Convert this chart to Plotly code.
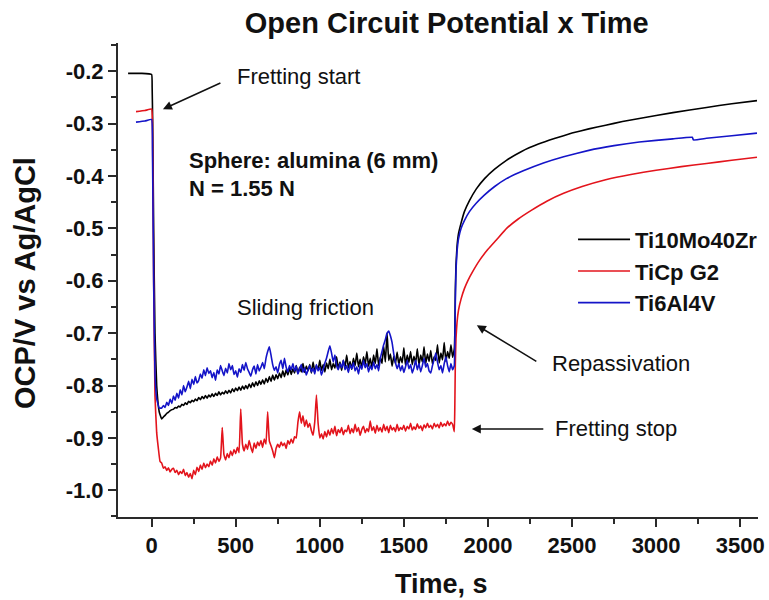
import plotly.graph_objects as go

# ---------------- data ----------------
SERIES_NAMES = ["Ti10Mo40Zr", "TiCp G2", "Ti6Al4V"]
SERIES_COLORS = ["#000000", "#e3141c", "#1414c8"]

# Before fretting (open circuit, stable) and the initial drop
BLACK_PRE_T = [-140, -60, 0, 3, 6, 12, 20, 30, 45]
BLACK_PRE_V = [-0.204, -0.204, -0.206, -0.23, -0.29, -0.50, -0.70, -0.80, -0.85]
RED_PRE_T = [-93, -40, 0, 5, 12, 20, 30, 40, 50]
RED_PRE_V = [-0.277, -0.275, -0.272, -0.30, -0.60, -0.82, -0.89, -0.92, -0.945]
BLUE_PRE_T = [-93, -40, 0, 5, 12, 20, 30, 45]
BLUE_PRE_V = [-0.297, -0.295, -0.292, -0.35, -0.60, -0.78, -0.825, -0.843]

# Sliding (fretting) period sampling times, s (every 10 s from 60 to 1800)
T_SLIDE = [
    60, 70, 80, 90, 100, 110, 120, 130, 140, 150,
    160, 170, 180, 190, 200, 210, 220, 230, 240, 250,
    260, 270, 280, 290, 300, 310, 320, 330, 340, 350,
    360, 370, 380, 390, 400, 410, 420, 430, 440, 450,
    460, 470, 480, 490, 500, 510, 520, 530, 540, 550,
    560, 570, 580, 590, 600, 610, 620, 630, 640, 650,
    660, 670, 680, 690, 700, 710, 720, 730, 740, 750,
    760, 770, 780, 790, 800, 810, 820, 830, 840, 850,
    860, 870, 880, 890, 900, 910, 920, 930, 940, 950,
    960, 970, 980, 990, 1000, 1010, 1020, 1030, 1040, 1050,
    1060, 1070, 1080, 1090, 1100, 1110, 1120, 1130, 1140, 1150,
    1160, 1170, 1180, 1190, 1200, 1210, 1220, 1230, 1240, 1250,
    1260, 1270, 1280, 1290, 1300, 1310, 1320, 1330, 1340, 1350,
    1360, 1370, 1380, 1390, 1400, 1410, 1420, 1430, 1440, 1450,
    1460, 1470, 1480, 1490, 1500, 1510, 1520, 1530, 1540, 1550,
    1560, 1570, 1580, 1590, 1600, 1610, 1620, 1630, 1640, 1650,
    1660, 1670, 1680, 1690, 1700, 1710, 1720, 1730, 1740, 1750,
    1760, 1770, 1780, 1790, 1800]

BLACK_SLIDE = [
    -0.864, -0.860, -0.857, -0.853, -0.851, -0.848, -0.846, -0.845, -0.842, -0.843,
    -0.839, -0.841, -0.836, -0.838, -0.833, -0.836, -0.830, -0.833, -0.828, -0.831,
    -0.826, -0.829, -0.823, -0.827, -0.821, -0.825, -0.819, -0.824, -0.818, -0.822,
    -0.816, -0.821, -0.815, -0.819, -0.812, -0.818, -0.813, -0.816, -0.810, -0.815,
    -0.809, -0.814, -0.806, -0.812, -0.805, -0.810, -0.803, -0.809, -0.801, -0.807,
    -0.800, -0.806, -0.797, -0.804, -0.795, -0.802, -0.793, -0.800, -0.791, -0.798,
    -0.789, -0.797, -0.786, -0.794, -0.783, -0.792, -0.780, -0.790, -0.779, -0.787,
    -0.776, -0.785, -0.772, -0.783, -0.770, -0.780, -0.766, -0.779, -0.768, -0.776,
    -0.762, -0.777, -0.765, -0.774, -0.758, -0.775, -0.763, -0.772, -0.760, -0.776,
    -0.755, -0.773, -0.762, -0.770, -0.752, -0.771, -0.760, -0.774, -0.757, -0.768,
    -0.750, -0.770, -0.758, -0.767, -0.745, -0.768, -0.755, -0.771, -0.752, -0.765,
    -0.742, -0.766, -0.754, -0.769, -0.748, -0.762, -0.738, -0.764, -0.750, -0.766,
    -0.745, -0.760, -0.735, -0.763, -0.748, -0.766, -0.742, -0.758, -0.730, -0.762,
    -0.746, -0.758, -0.725, -0.755, -0.700, -0.752, -0.740, -0.763, -0.744, -0.758,
    -0.736, -0.760, -0.745, -0.757, -0.728, -0.762, -0.742, -0.756, -0.735, -0.760,
    -0.744, -0.757, -0.730, -0.761, -0.742, -0.755, -0.726, -0.758, -0.740, -0.754,
    -0.733, -0.759, -0.745, -0.752, -0.722, -0.757, -0.738, -0.751, -0.718, -0.754,
    -0.735, -0.748, -0.722, -0.746, -0.730]

RED_SLIDE = [
    -0.948, -0.958, -0.955, -0.962, -0.957, -0.965, -0.960, -0.958, -0.966, -0.962,
    -0.970, -0.964, -0.968, -0.960, -0.972, -0.966, -0.975, -0.968, -0.978, -0.962,
    -0.970, -0.956, -0.964, -0.952, -0.960, -0.948, -0.957, -0.950, -0.955, -0.944,
    -0.952, -0.940, -0.948, -0.936, -0.945, -0.938, -0.880, -0.932, -0.942, -0.930,
    -0.938, -0.925, -0.934, -0.922, -0.930, -0.918, -0.928, -0.845, -0.912, -0.925,
    -0.912, -0.922, -0.905, -0.918, -0.928, -0.910, -0.920, -0.908, -0.915, -0.905,
    -0.918, -0.902, -0.912, -0.850, -0.906, -0.915, -0.925, -0.938, -0.920, -0.912,
    -0.918, -0.908, -0.915, -0.910, -0.920, -0.905, -0.912, -0.902, -0.910, -0.898,
    -0.900, -0.870, -0.850, -0.872, -0.858, -0.878, -0.866, -0.880, -0.872, -0.886,
    -0.895, -0.870, -0.818, -0.872, -0.900, -0.892, -0.902, -0.888, -0.898, -0.885,
    -0.895, -0.882, -0.892, -0.878, -0.896, -0.884, -0.890, -0.880, -0.894, -0.885,
    -0.888, -0.876, -0.892, -0.882, -0.890, -0.874, -0.888, -0.880, -0.895, -0.884,
    -0.878, -0.890, -0.882, -0.888, -0.868, -0.886, -0.879, -0.891, -0.876, -0.887,
    -0.880, -0.889, -0.874, -0.886, -0.878, -0.890, -0.876, -0.885, -0.880, -0.888,
    -0.874, -0.886, -0.880, -0.884, -0.876, -0.887, -0.878, -0.883, -0.872, -0.885,
    -0.879, -0.884, -0.873, -0.882, -0.877, -0.886, -0.875, -0.881, -0.872, -0.880,
    -0.876, -0.883, -0.872, -0.879, -0.874, -0.881, -0.870, -0.878, -0.873, -0.877,
    -0.868, -0.876, -0.870, -0.874, -0.888]

BLUE_SLIDE = [
    -0.843, -0.838, -0.842, -0.832, -0.838, -0.826, -0.834, -0.820, -0.828, -0.815,
    -0.824, -0.808, -0.818, -0.800, -0.812, -0.803, -0.792, -0.806, -0.788, -0.798,
    -0.783, -0.795, -0.790, -0.778, -0.786, -0.770, -0.781, -0.766, -0.777, -0.772,
    -0.785, -0.775, -0.790, -0.770, -0.778, -0.762, -0.772, -0.781, -0.767, -0.776,
    -0.758, -0.770, -0.762, -0.779, -0.772, -0.784, -0.768, -0.775, -0.760, -0.771,
    -0.756, -0.768, -0.775, -0.782, -0.770, -0.763, -0.778, -0.760, -0.772, -0.765,
    -0.756, -0.768, -0.748, -0.735, -0.726, -0.742, -0.760, -0.771, -0.764, -0.776,
    -0.760, -0.752, -0.768, -0.748, -0.765, -0.774, -0.762, -0.770, -0.758, -0.772,
    -0.763, -0.778, -0.768, -0.760, -0.775, -0.766, -0.780, -0.770, -0.762, -0.774,
    -0.767, -0.778, -0.760, -0.772, -0.765, -0.780, -0.770, -0.757, -0.748, -0.735,
    -0.724, -0.738, -0.755, -0.742, -0.762, -0.770, -0.758, -0.766, -0.752, -0.770,
    -0.762, -0.775, -0.760, -0.768, -0.756, -0.772, -0.764, -0.778, -0.761, -0.769,
    -0.752, -0.766, -0.758, -0.774, -0.762, -0.770, -0.755, -0.768, -0.760, -0.772,
    -0.748, -0.735, -0.722, -0.712, -0.700, -0.696, -0.705, -0.718, -0.740, -0.756,
    -0.768, -0.758, -0.772, -0.762, -0.775, -0.764, -0.752, -0.768, -0.760, -0.776,
    -0.766, -0.752, -0.770, -0.758, -0.774, -0.762, -0.748, -0.765, -0.758, -0.772,
    -0.776, -0.762, -0.750, -0.738, -0.755, -0.770, -0.762, -0.776, -0.758, -0.745,
    -0.762, -0.774, -0.758, -0.770, -0.762]

# After fretting stop: repassivation
BLACK_POST_T = [1803, 1806, 1810, 1816, 1825, 1840, 1860, 1890, 1930, 1980,
                2040, 2110, 2200, 2300, 2400, 2500, 2600, 2700, 2800, 2900,
                3100, 3300, 3450, 3600]
BLACK_POST_V = [-0.70, -0.62, -0.57, -0.535, -0.51, -0.49, -0.468, -0.447,
                -0.425, -0.405, -0.387, -0.370, -0.353, -0.339, -0.328, -0.318,
                -0.310, -0.303, -0.296, -0.290, -0.279, -0.269, -0.262, -0.256]
RED_POST_T = [1803, 1806, 1810, 1816, 1825, 1840, 1860, 1880, 1910, 1950,
              2000, 2050, 2111, 2180, 2260, 2350, 2450, 2560, 2700, 2850,
              3000, 3150, 3300, 3450, 3600]
RED_POST_V = [-0.84, -0.76, -0.71, -0.68, -0.656, -0.635, -0.615, -0.600,
              -0.582, -0.561, -0.540, -0.522, -0.500, -0.482, -0.465, -0.448,
              -0.433, -0.420, -0.407, -0.397, -0.389, -0.382, -0.376, -0.370,
              -0.364]
BLUE_POST_T = [1803, 1806, 1810, 1816, 1825, 1840, 1860, 1890, 1930, 1980,
               2040, 2110, 2210, 2330, 2450, 2600, 2750, 2900, 3100, 3215,
               3222, 3300, 3450, 3600]
BLUE_POST_V = [-0.72, -0.64, -0.58, -0.545, -0.52, -0.50, -0.485, -0.468,
               -0.452, -0.436, -0.420, -0.405, -0.390, -0.375, -0.363, -0.351,
               -0.342, -0.335, -0.329, -0.326, -0.331, -0.328, -0.323, -0.318]

X_TICKS = [0, 500, 1000, 1500, 2000, 2500, 3000, 3500]
Y_TICKS = [-1.0, -0.9, -0.8, -0.7, -0.6, -0.5, -0.4, -0.3, -0.2]
Y_TICK_LABELS = ["-1.0", "-0.9", "-0.8", "-0.7", "-0.6", "-0.5", "-0.4", "-0.3", "-0.2"]

# ---------------- figure ----------------
FONT = "Liberation Sans, Arial, sans-serif"

series = [
    (BLACK_PRE_T + T_SLIDE + BLACK_POST_T, BLACK_PRE_V + BLACK_SLIDE + BLACK_POST_V),
    (RED_PRE_T + T_SLIDE + RED_POST_T, RED_PRE_V + RED_SLIDE + RED_POST_V),
    (BLUE_PRE_T + T_SLIDE + BLUE_POST_T, BLUE_PRE_V + BLUE_SLIDE + BLUE_POST_V),
]

fig = go.Figure()
for (xs, ys), name, col in zip(series, SERIES_NAMES, SERIES_COLORS):
    fig.add_trace(go.Scatter(x=xs, y=ys, mode="lines", name=name,
                             line=dict(color=col, width=1.6, shape="spline",
                                       smoothing=0.3)))

axis_common = dict(
    showline=True, linecolor="#2a2a2a", linewidth=2, mirror=False,
    ticks="outside", ticklen=8, tickwidth=2, tickcolor="#2a2a2a",
    showgrid=False, zeroline=False,
    tickfont=dict(family=FONT, size=22, color="#111", weight="bold"),
)

fig.update_layout(
    width=769, height=600,
    margin=dict(l=118, r=11, t=43, b=83, autoexpand=False),
    paper_bgcolor="white", plot_bgcolor="white",
    title=dict(text="Open Circuit Potential x Time",
               font=dict(family=FONT, size=29, color="#111", weight="bold"),
               x=0.581, xanchor="center", y=0.962, yanchor="middle",
               xref="container", yref="container"),
    xaxis=dict(range=[-200, 3606], tickvals=X_TICKS,
               minor=dict(dtick=250, tick0=0, ticks="outside", ticklen=5,
                          tickwidth=2, tickcolor="#2a2a2a"),
               **axis_common),
    yaxis=dict(range=[-1.051, -0.146], tickvals=Y_TICKS, ticktext=Y_TICK_LABELS,
               minor=dict(dtick=0.05, tick0=0, ticks="outside", ticklen=5,
                          tickwidth=2, tickcolor="#2a2a2a"),
               **axis_common),
    legend=dict(x=0.711, y=0.6295, xanchor="left", yanchor="top",
                bgcolor="rgba(0,0,0,0)", itemwidth=52,
                font=dict(family=FONT, size=22, color="#111", weight="bold"),
                tracegroupgap=0),
    showlegend=True,
)

def px_to_paper_x(px):
    return (px - 118) / 640.0

def px_to_paper_y(py):
    return (517 - py) / 474.0

# axis titles
fig.add_annotation(text="Time, s", xref="paper", yref="paper",
                   x=px_to_paper_x(441), y=px_to_paper_y(584),
                   xanchor="center", yanchor="middle", showarrow=False,
                   font=dict(family=FONT, size=27, color="#111", weight="bold"))
fig.add_annotation(text="OCP/V vs Ag/AgCl", xref="paper", yref="paper",
                   x=px_to_paper_x(25), y=px_to_paper_y(283), textangle=-90,
                   xanchor="center", yanchor="middle", showarrow=False,
                   font=dict(family=FONT, size=29, color="#111", weight="bold"))

# text labels
labels = [
    ("Fretting start", 235, 76, "normal"),
    ("Sphere: alumina (6 mm)", 187, 160, "bold"),
    ("N = 1.55 N", 187, 188, "bold"),
    ("Sliding friction", 235, 307, "normal"),
    ("Repassivation", 550, 363, "normal"),
    ("Fretting stop", 553, 428, "normal"),
]
for txt, lx, ly, w in labels:
    fig.add_annotation(text=txt, xref="paper", yref="paper",
                       x=px_to_paper_x(lx), y=px_to_paper_y(ly),
                       xanchor="left", yanchor="middle", showarrow=False,
                       font=dict(family=FONT, size=22, color="#111", weight=w))

# arrows (head in data coords, tail offset in px)
arrows = [
    (67, -0.2725, 59, -27),
    (1934, -0.685, 61, 37),
    (1904, -0.883, 73, 0),
]
for hx, hy, ax, ay in arrows:
    fig.add_annotation(x=hx, y=hy, xref="x", yref="y", text="",
                       showarrow=True, ax=ax, ay=ay, axref="pixel", ayref="pixel",
                       arrowhead=2, arrowsize=1.2, arrowwidth=1.5,
                       arrowcolor="#111")

fig.write_html("out.html")
